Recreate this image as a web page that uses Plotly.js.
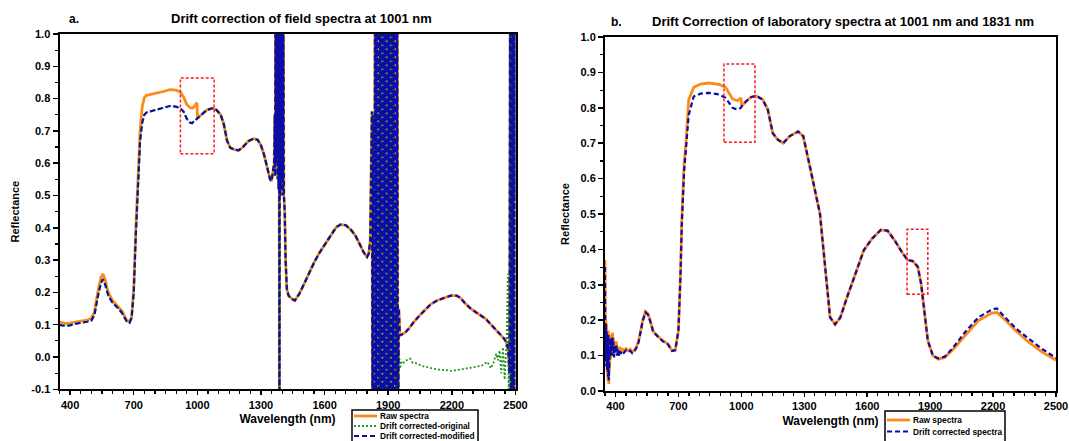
<!DOCTYPE html>
<html>
<head>
<meta charset="utf-8">
<script src="https://cdn.plot.ly/plotly-3.0.1.min.js"></script>
<style>html,body{margin:0;padding:0;background:#fff;}#chart{width:1069px;height:441px;}</style>
</head>
<body>
<div id="chart"></div>
<script>
// ---------- Field spectra (panel a) ----------
const fieldWl = [350,360,380,400,420,450,480,500,515,530,545,555,565,580,600,625,645,665,680,690,700,710,720,730,740,750,760,800,840,870,900,920,935,950,965,975,985,995,998,1001,1020,1045,1070,1090,1110,1125,1140,1155,1175,1195,1215,1240,1265,1285,1300,1315,1330,1343,1350,1357,1362,1365,1367,1369,1371,1373,1375,1377,1379,1381,1383,1385,1387,1389,1391,1393,1395,1397,1399,1401,1403,1405,1408,1412,1416,1422,1430,1445,1460,1480,1500,1525,1550,1575,1600,1630,1655,1675,1700,1725,1745,1765,1785,1800,1808,1815,1820,1823,1826,1830,1834,1838,1842,1846,1850,1854,1858,1862,1866,1870,1874,1878,1882,1886,1890,1894,1898,1902,1906,1910,1914,1918,1922,1926,1930,1934,1938,1942,1946];
const fieldRaw = [0.108,0.106,0.104,0.105,0.108,0.111,0.114,0.120,0.140,0.200,0.245,0.257,0.240,0.200,0.175,0.158,0.142,0.116,0.108,0.125,0.210,0.400,0.580,0.700,0.775,0.803,0.810,0.815,0.822,0.828,0.826,0.820,0.805,0.782,0.772,0.770,0.775,0.785,0.787,0.740,0.752,0.765,0.770,0.765,0.750,0.720,0.670,0.648,0.642,0.640,0.650,0.668,0.676,0.672,0.655,0.625,0.585,0.550,0.545,0.580,0.600,0.750,0.560,1.3,0.600,1.3,0.620,1.3,0.550,1.3,0.520,1.3,-0.4,1.3,0.500,1.3,0.520,1.3,0.550,1.3,0.500,1.2,0.500,0.450,0.300,0.210,0.190,0.180,0.175,0.195,0.222,0.258,0.292,0.322,0.348,0.380,0.402,0.410,0.408,0.393,0.376,0.350,0.323,0.310,0.320,0.360,0.550,0.760,-0.3,0.75,-0.3,1.3,-0.3,1.3,-0.3,1.3,-0.3,1.3,-0.3,1.3,-0.3,1.3,-0.3,1.3,-0.3,1.3,-0.3,1.3,-0.3,1.3,-0.3,1.3,-0.3,1.3,-0.3,1.3,-0.3,1.3,-0.3];
const fieldMod = [0.100,0.098,0.097,0.098,0.102,0.105,0.109,0.113,0.130,0.185,0.228,0.241,0.225,0.190,0.168,0.152,0.136,0.112,0.106,0.120,0.200,0.380,0.550,0.670,0.725,0.750,0.757,0.765,0.772,0.777,0.775,0.770,0.760,0.738,0.726,0.724,0.730,0.736,0.738,0.740,0.752,0.765,0.770,0.765,0.750,0.720,0.670,0.648,0.642,0.640,0.650,0.668,0.676,0.672,0.655,0.625,0.585,0.550,0.545,0.580,0.600,0.750,0.560,1.3,0.600,1.3,0.620,1.3,0.550,1.3,0.520,1.3,-0.4,1.3,0.500,1.3,0.520,1.3,0.550,1.3,0.500,1.2,0.500,0.450,0.300,0.210,0.190,0.180,0.175,0.195,0.222,0.258,0.292,0.322,0.348,0.380,0.402,0.410,0.408,0.393,0.376,0.350,0.323,0.310,0.320,0.360,0.550,0.760,-0.3,0.75,-0.3,1.3,-0.3,1.3,-0.3,1.3,-0.3,1.3,-0.3,1.3,-0.3,1.3,-0.3,1.3,-0.3,1.3,-0.3,1.3,-0.3,1.3,-0.3,1.3,-0.3,1.3,-0.3,1.3,-0.3,1.3,-0.3];
// after the 1900 nm water band
const modTailWl  = [1950,1955,1965,1980,2000,2020,2050,2075,2100,2130,2165,2195,2222,2240,2260,2285,2310,2335,2360,2385,2410,2430,2445,2458,2466,2472];
const modTailVal = [0.150,0.067,0.070,0.076,0.090,0.108,0.130,0.148,0.163,0.175,0.183,0.190,0.190,0.183,0.168,0.152,0.140,0.130,0.118,0.100,0.082,0.068,0.058,0.045,0.020,-0.050];
const origTailWl  = [1950,1955,1962,1970,1980,1990,2003,2015,2036,2060,2084,2110,2133,2165,2197,2230,2262,2290,2311,2340,2368,2376,2384,2395,2409,2417,2425,2433,2441,2449,2458,2464,2468,2472];
const origTailVal = [0.026,-0.036,-0.015,-0.020,-0.012,-0.008,-0.005,-0.018,-0.020,-0.028,-0.031,-0.036,-0.039,-0.040,-0.043,-0.040,-0.036,-0.032,-0.029,-0.027,-0.015,-0.025,-0.035,-0.020,0.010,-0.010,0.020,-0.050,0.030,-0.070,0.050,0.257,-0.100,0.200];
// 2500 nm edge noise
const edgeWl  = [2475,2478,2481,2484,2487,2490,2493,2496,2499,2500];
const edgeVal = [1.3,-0.3,1.3,-0.3,1.3,-0.3,1.3,-0.3,1.3,0.5];

// ---------- Laboratory spectra (panel b) ----------
const labWl = [350,352,354,356,358,360,362,364,366,368,370,372,374,376,378,380,382,384,386,388,390,393,396,400,404,408,412,416,420,425,430,440,450,460,470,480,490,500,510,520,530,543,555,565,580,600,625,650,670,685,700,710,716,727,736,749,773,805,845,893,925,958,982,998,1002,1022,1046,1070,1102,1126,1150,1174,1199,1231,1271,1295,1327,1359,1375,1383,1407,1423,1447,1472,1504,1544,1584,1624,1665,1697,1729,1769,1793,1817,1841,1857,1873,1889,1913,1938,1970,2010,2066,2130,2194,2218,2259,2307,2371,2436,2500];
const labRaw = [0.37,0.10,0.20,0.08,0.19,0.05,0.16,0.03,0.17,0.02,0.14,0.06,0.16,0.09,0.145,0.10,0.16,0.11,0.165,0.12,0.15,0.10,0.14,0.115,0.14,0.11,0.125,0.105,0.125,0.11,0.12,0.113,0.12,0.114,0.118,0.11,0.115,0.125,0.14,0.17,0.20,0.225,0.218,0.20,0.168,0.156,0.142,0.133,0.114,0.116,0.17,0.33,0.48,0.64,0.70,0.823,0.858,0.867,0.870,0.866,0.858,0.825,0.820,0.828,0.805,0.818,0.830,0.834,0.823,0.795,0.728,0.710,0.700,0.720,0.733,0.720,0.634,0.549,0.500,0.450,0.294,0.208,0.188,0.208,0.265,0.332,0.398,0.431,0.455,0.453,0.427,0.389,0.370,0.367,0.351,0.303,0.227,0.142,0.100,0.090,0.095,0.118,0.156,0.199,0.220,0.222,0.200,0.171,0.137,0.109,0.087];
const labCor = [0.35,0.09,0.19,0.07,0.17,0.06,0.15,0.04,0.16,0.03,0.13,0.07,0.15,0.10,0.135,0.11,0.15,0.10,0.155,0.11,0.14,0.095,0.13,0.105,0.13,0.10,0.117,0.097,0.117,0.105,0.114,0.108,0.115,0.11,0.114,0.107,0.112,0.122,0.138,0.168,0.198,0.222,0.216,0.198,0.167,0.155,0.141,0.132,0.113,0.115,0.17,0.33,0.47,0.62,0.69,0.780,0.832,0.840,0.842,0.838,0.828,0.800,0.795,0.800,0.805,0.818,0.830,0.834,0.823,0.795,0.728,0.710,0.700,0.720,0.733,0.720,0.634,0.549,0.500,0.450,0.294,0.208,0.188,0.208,0.265,0.332,0.398,0.431,0.455,0.453,0.427,0.389,0.370,0.367,0.351,0.303,0.227,0.142,0.100,0.092,0.097,0.123,0.166,0.208,0.230,0.233,0.207,0.178,0.147,0.118,0.093];

// highlighted regions [x0, x1, y0, y1]
const fieldBox = [920, 1079, 0.629, 0.864];
const labBox1 = [917, 1065, 0.703, 0.924];
const labBox2 = [1790, 1889, 0.273, 0.457];

// tick labels
const xTickVals = [400,700,1000,1300,1600,1900,2200,2500];
const yTickValsA = [-0.1,0,0.1,0.2,0.3,0.4,0.5,0.6,0.7,0.8,0.9,1.0];
const yTickTextA = ['-0.1','0.0','0.1','0.2','0.3','0.4','0.5','0.6','0.7','0.8','0.9','1.0'];
const yTickValsB = [0,0.1,0.2,0.3,0.4,0.5,0.6,0.7,0.8,0.9,1.0];
const yTickTextB = ['0.0','0.1','0.2','0.3','0.4','0.5','0.6','0.7','0.8','0.9','1.0'];

const legendA = ['Raw spectra','Drift corrected-original','Drift corrected-modified'];
const legendB = ['Raw spectra','Drift corrected spectra'];

// ---------- styles ----------
const W = 1069, H = 441;
const FONT = 'Liberation Sans, Arial, Helvetica, sans-serif';
const ORANGE = '#ff8a1c', GREEN = '#1e9a1e', BLUE = '#0c0ca6', RED = '#ff1a1a';
const px = v => v / W, py = v => 1 - v / H;

const rawTail = modTailWl.concat(edgeWl);
const traces = [
  {x: fieldWl.concat(rawTail), y: fieldRaw.concat(modTailVal, edgeVal), xaxis:'x', yaxis:'y',
   mode:'lines', line:{color:ORANGE, width:2.8}, name:legendA[0]},
  {x: fieldWl.concat(origTailWl, edgeWl), y: fieldMod.concat(origTailVal, edgeVal), xaxis:'x', yaxis:'y',
   mode:'lines', line:{color:GREEN, width:1.8, dash:'2px,2px'}, name:legendA[1]},
  {x: fieldWl.concat(rawTail), y: fieldMod.concat(modTailVal, edgeVal), xaxis:'x', yaxis:'y',
   mode:'lines', line:{color:BLUE, width:2.2, dash:'5px,3px'}, name:legendA[2]},
  {x: labWl, y: labRaw, xaxis:'x2', yaxis:'y2', mode:'lines', line:{color:ORANGE, width:2.8}, name:legendB[0]},
  {x: labWl, y: labCor, xaxis:'x2', yaxis:'y2', mode:'lines', line:{color:BLUE, width:2.2, dash:'5px,3px'}, name:legendB[1]}
];

const tickFont = {family:FONT, size:11, color:'#000', weight:'bold'};
function xAxis(dom, anchor) {
  return {domain:dom, anchor:anchor, range:[350,2500], tickvals:xTickVals, ticks:'outside', ticklen:4, tickwidth:1.5,
    tickcolor:'#000', showline:true, linewidth:2, linecolor:'#000', mirror:true, showgrid:false, zeroline:false,
    tickfont:tickFont, minor:{dtick:50, tick0:350, ticks:'outside', ticklen:3, tickwidth:1.2, tickcolor:'#000', showgrid:false},
    title:{text:'Wavelength (nm)', font:{family:FONT, size:12, color:'#000', weight:'bold'}, standoff:5}};
}
function yAxis(dom, anchor, range, vals, text) {
  return {domain:dom, anchor:anchor, range:range, tickvals:vals, ticktext:text, ticks:'outside', ticklen:5, tickwidth:1.5,
    tickcolor:'#000', showline:true, linewidth:2, linecolor:'#000', mirror:true, showgrid:false, zeroline:false,
    tickfont:tickFont, minor:{dtick:0.05, tick0:0, ticks:'outside', ticklen:3, tickwidth:1.2, tickcolor:'#000', showgrid:false},
    title:{text:'Reflectance', font:{family:FONT, size:11, color:'#000', weight:'bold'}, standoff:9}};
}

function box(b, xr, yr) {
  return {type:'rect', xref:xr, yref:yr, x0:b[0], x1:b[1], y0:b[2], y1:b[3],
    line:{color:RED, width:1.5, dash:'3px,2px'}, fillcolor:'rgba(0,0,0,0)'};
}

const shapes = [box(fieldBox,'x','y'), box(labBox1,'x2','y2'), box(labBox2,'x2','y2')];
const annotations = [];
const annFont = (s) => ({family:FONT, size:s, color:'#000', weight:'bold'});

// legends (drawn in pixel positions)
function legend(x0, x1, top, rows, styles, labels) {
  shapes.push({type:'rect', xref:'paper', yref:'paper', x0:px(x0), x1:px(x1), y0:py(top), y1:py(H+3),
    line:{color:'#000', width:1.5}, fillcolor:'#fff', layer:'above'});
  rows.forEach((r, i) => {
    shapes.push({type:'line', xref:'paper', yref:'paper', x0:px(x0+2), x1:px(x0+25), y0:py(r), y1:py(r),
      line:styles[i], layer:'above'});
    annotations.push({text:labels[i], xref:'paper', yref:'paper', x:px(x0+27), y:py(r), xanchor:'left', yanchor:'middle',
      showarrow:false, borderpad:0, font:annFont(8.3)});
  });
}
legend(352, 478, 410, [416, 426, 436],
  [{color:ORANGE, width:2.8}, {color:GREEN, width:1.8, dash:'2px,2px'}, {color:BLUE, width:2.2, dash:'5px,3px'}], legendA);
legend(885, 1005, 411, [420, 431.5],
  [{color:ORANGE, width:2.8}, {color:BLUE, width:2.2, dash:'5px,3px'}], legendB);

// titles
annotations.push({text:'a.', xref:'paper', yref:'paper', x:px(67), y:py(19), xanchor:'left', yanchor:'middle', showarrow:false, font:annFont(12)});
annotations.push({text:'Drift correction of field spectra at 1001 nm', xref:'paper', yref:'paper', x:px(301), y:py(19), xanchor:'center', yanchor:'middle', showarrow:false, font:annFont(13)});
annotations.push({text:'b.', xref:'paper', yref:'paper', x:px(609), y:py(22), xanchor:'left', yanchor:'middle', showarrow:false, font:annFont(12)});
annotations.push({text:'Drift Correction of laboratory spectra at 1001 nm and 1831 nm', xref:'paper', yref:'paper', x:px(842.5), y:py(22), xanchor:'center', yanchor:'middle', showarrow:false, font:annFont(13)});

const layout = {
  width:W, height:H, margin:{l:0, r:0, t:0, b:0}, paper_bgcolor:'#fff', plot_bgcolor:'#fff',
  showlegend:false, font:{family:FONT, color:'#000'},
  xaxis: xAxis([59.5/W, 515.5/W], 'y'),
  yaxis: yAxis([1-389.3/H, 1-34/H], 'x', [-0.1, 1.0], yTickValsA, yTickTextA),
  xaxis2: xAxis([605/W, 1056/W], 'y2'),
  yaxis2: yAxis([1-391/H, 1-37/H], 'x2', [0, 1.0], yTickValsB, yTickTextB),
  shapes: shapes, annotations: annotations
};

Plotly.newPlot('chart', traces, layout, {staticPlot:true, displayModeBar:false});
</script>
</body>
</html>
